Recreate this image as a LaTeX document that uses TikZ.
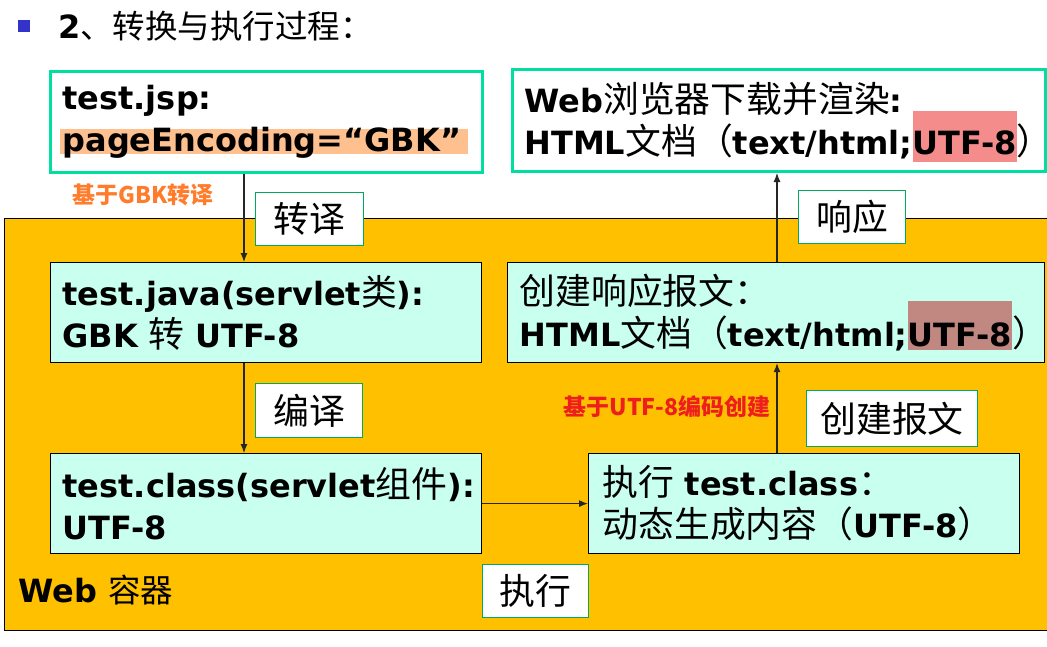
\documentclass[tikz,border=0pt]{standalone}
\usepackage{fontspec}
\setmainfont{DejaVu Sans}
\newfontfamily\cjk[Scale=1.12]{Noto Sans CJK SC}
\usetikzlibrary{arrows.meta,positioning}

\definecolor{tealline}{RGB}{0,222,160}
\definecolor{tagline}{RGB}{0,170,90}
\definecolor{webyellow}{RGB}{255,192,0}
\definecolor{mint}{RGB}{200,255,238}
\definecolor{peach}{RGB}{255,192,144}
\definecolor{salmon}{RGB}{244,140,140}
\definecolor{rosy}{RGB}{192,136,128}
\definecolor{orangetxt}{RGB}{255,124,44}
\definecolor{redtxt}{RGB}{238,30,30}
\definecolor{bulletblue}{RGB}{51,51,204}

% Chinese text, regular or bold
\newcommand\zh[1]{{\cjk\mdseries #1}}
\newcommand\zhb[1]{{\cjk\bfseries #1}}
% marker behind a piece of text: colour, depth, total height, text
\newcommand\hilite[4]{\leavevmode\setbox0\hbox{#4}%
  \rlap{\smash{\color{#1}\rule[-#2]{\wd0}{#3}}}\box0}

\tikzset{
  bigbox/.style={draw=black, line width=1.2pt, fill=mint, anchor=north west,
    inner xsep=12pt, inner ysep=0pt, align=left,
    font=\fontsize{32}{42}\selectfont\bfseries},
  pagebox/.style={bigbox, draw=tealline, line width=3pt, fill=white},
  tagbox/.style={draw=tagline, line width=1pt, fill=white, anchor=north west,
    inner sep=0pt, font=\fontsize{32}{40}\selectfont\cjk},
  note/.style={font=\fontsize{20.5}{24}\selectfont\cjk\bfseries},
  arr/.style={draw=black!85, line width=1.1pt, -{Latex[length=9pt,width=7pt]}}
}

\begin{document}
\begin{tikzpicture}[x=1pt,y=-1pt]
  \useasboundingbox (0,0) rectangle (1047,646);

  %title
  \node[fill=bulletblue, minimum size=12pt, inner sep=0pt] (bullet) at (24,26) {};
  \node[anchor=west, inner sep=0pt, font=\fontsize{32}{36}\selectfont]
    (title) at (58,26) {\textbf{2}{\fontsize{29}{34}\selectfont\zh{、转换与执行过程：}}};

  %web container
  \node[draw=black, line width=1.2pt, fill=webyellow, anchor=north west,
    minimum width=1060pt, minimum height=412pt, inner sep=0pt] (container) at (4,218) {};
  \node[anchor=west, inner sep=0pt, font=\fontsize{32}{36}\selectfont\bfseries]
    (webtag) at (18,590) {Web {\fontsize{29}{34}\selectfont\zh{容器}}};

  %browser side
  \node[pagebox, text width=408pt, minimum height=101pt] (jsp) at (49,70)
    {test.jsp:\\\hspace*{-3pt}\hilite{peach}{2pt}{25pt}{\hspace{3pt}pageEncoding=“GBK”\hspace{7pt}}};
  \node[pagebox, text width=509pt, minimum height=102pt] (browser) at (511,68)
    {Web\zh{浏览器下载并渲染}:\\HTML\zh{文档（}text/html;\hilite{salmon}{8pt}{51pt}{UTF-8}\zh{）}\kern-20pt};

  %servlet side
  \node[bigbox, text width=407pt, minimum height=100pt] (java) at (50,262)
    {test.java(servlet\zh{类}):\\GBK \zh{转} UTF-8};
  \node[bigbox, text width=407pt, minimum height=100pt] (class) at (50,453)
    {test.class(servlet\zh{组件}):\\UTF-8};
  \node[bigbox, inner xsep=14pt, text width=403pt, minimum height=100pt] (exec) at (588,453)
    {\zh{执行} test.class\zh{：}\\\zh{动态生成内容（}UTF-8\zh{）}};
  \node[bigbox, text width=513pt, minimum height=100pt] (create) at (507,262)
    {\zh{创建响应报文：}\\HTML\zh{文档（}text/html;\hilite{rosy}{3pt}{49pt}{UTF-8}\zh{）}\kern-20pt};

  %step names
  \node[tagbox, minimum width=108pt, minimum height=53pt] (transtag) at (255,192) {转译};
  \node[tagbox, minimum width=107pt, minimum height=54pt] (compiletag) at (255,383) {编译};
  \node[tagbox, minimum width=106pt, minimum height=53pt] (runtag) at (482,564) {执行};
  \node[tagbox, minimum width=107pt, minimum height=53pt] (resptag) at (798,190) {响应};
  \node[tagbox, minimum width=171pt, minimum height=56pt] (buildtag) at (806,390) {创建报文};

  \node[note, text=orangetxt] (gbknote) at (143,195) {基于GBK转译};
  \node[note, text=redtxt] (utfnote) at (667,407) {基于UTF-8编码创建};

  %arrows
  \coordinate (lcol) at (244,0);
  \coordinate (rcol) at (777,0);
  \draw[arr] (jsp.south -| lcol) -- (java.north -| lcol);
  \draw[arr] (java.south -| lcol) -- (class.north -| lcol);
  \draw[arr] (class.east) -- (exec.west);
  \draw[arr] (exec.north -| rcol) -- (create.south -| rcol);
  \draw[arr] (create.north -| rcol) -- (browser.south -| rcol);
\end{tikzpicture}
\end{document}
